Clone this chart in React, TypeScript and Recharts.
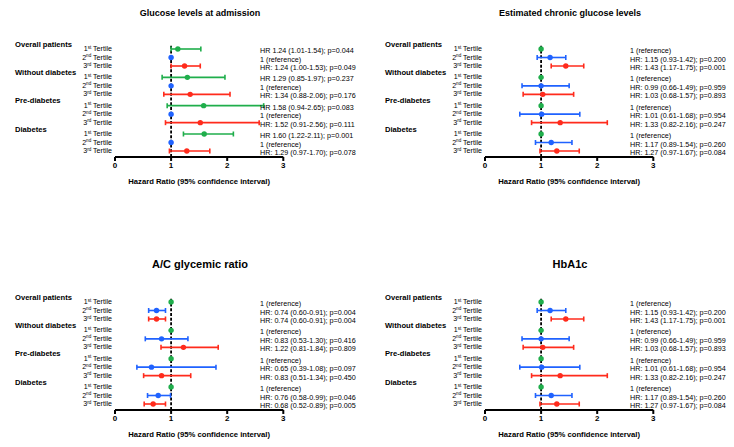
import React from 'react';
import { ScatterChart, Scatter, XAxis, YAxis, ErrorBar, ReferenceLine } from 'recharts';

const groups = ['Overall patients', 'Without diabetes', 'Pre-diabetes', 'Diabetes'];
const tertiles = ['1', '2', '3'];
const tertileSup = ['st', 'nd', 'rd'];
const xTicks = [0, 1, 2, 3];
const tertileColors = ['#1fae4b', '#1f62ff', '#ff2b1c'];

// Glucose levels at admission (2nd tertile = reference)
const admissionHr = [1.12, 1, 1.24, 1.29, 1, 1.34, 1.58, 1, 1.52, 1.59, 1, 1.28];
const admissionLo = [1.0, null, 1.0, 0.84, null, 0.87, 0.93, null, 0.9, 1.22, null, 0.97];
const admissionHi = [1.53, null, 1.52, 1.96, null, 2.05, 2.65, null, 2.57, 2.11, null, 1.69];
const admissionNotes = [
  'HR 1.24 (1.01-1.54); p=0.044', '1 (reference)', 'HR: 1.24 (1.00-1.53); p=0.049',
  'HR 1.29 (0.85-1.97); p=0.237', '1 (reference)', 'HR: 1.34 (0.88-2.06); p=0.176',
  'HR 1.58 (0.94-2.65); p=0.083', '1 (reference)', 'HR: 1.52 (0.91-2.56); p=0.111',
  'HR 1.60 (1.22-2.11); p=0.001', '1 (reference)', 'HR: 1.29 (0.97-1.70); p=0.078',
];

// Estimated chronic glucose levels
const chronicHr = [1, 1.16, 1.44, 1, 1.0, 1.03, 1, 1.01, 1.34, 1, 1.18, 1.28];
const chronicLo = [null, 0.93, 1.18, null, 0.66, 0.68, null, 0.62, 0.83, null, 0.9, 0.98];
const chronicHi = [null, 1.44, 1.76, null, 1.5, 1.58, null, 1.69, 2.18, null, 1.55, 1.68];
const chronicNotes = [
  '1 (reference)', 'HR: 1.15 (0.93-1.42); p=0.200', 'HR: 1.43 (1.17-1.75); p=0.001',
  '1 (reference)', 'HR: 0.99 (0.66-1.49); p=0.959', 'HR: 1.03 (0.68-1.57); p=0.893',
  '1 (reference)', 'HR: 1.01 (0.61-1.68); p=0.954', 'HR: 1.33 (0.82-2.16); p=0.247',
  '1 (reference)', 'HR: 1.17 (0.89-1.54); p=0.260', 'HR: 1.27 (0.97-1.67); p=0.084',
];

// A/C glycemic ratio
const ratioHr = [1, 0.74, 0.74, 1, 0.83, 1.22, 1, 0.65, 0.83, 1, 0.77, 0.68];
const ratioLo = [null, 0.6, 0.6, null, 0.54, 0.82, null, 0.39, 0.51, null, 0.58, 0.52];
const ratioHi = [null, 0.9, 0.9, null, 1.3, 1.84, null, 1.8, 1.35, null, 0.99, 0.9];
const ratioNotes = [
  '1 (reference)', 'HR: 0.74 (0.60-0.91); p=0.004', 'HR: 0.74 (0.60-0.91); p=0.004',
  '1 (reference)', 'HR: 0.83 (0.53-1.30); p=0.416', 'HR: 1.22 (0.81-1.84); p=0.809',
  '1 (reference)', 'HR: 0.65 (0.39-1.08); p=0.097', 'HR: 0.83 (0.51-1.34); p=0.450',
  '1 (reference)', 'HR: 0.76 (0.58-0.99); p=0.046', 'HR: 0.68 (0.52-0.89); p=0.005',
];

// HbA1c
const hba1cHr = [1, 1.16, 1.44, 1, 1.0, 1.03, 1, 1.01, 1.34, 1, 1.18, 1.28];
const hba1cLo = [null, 0.93, 1.18, null, 0.66, 0.68, null, 0.62, 0.83, null, 0.9, 0.98];
const hba1cHi = [null, 1.44, 1.76, null, 1.5, 1.58, null, 1.69, 2.18, null, 1.55, 1.68];
const hba1cNotes = chronicNotes;

const FONT = '"Liberation Sans", Arial, sans-serif';
const W = 367;
const H = 250;

// row position on the y axis: groups are spaced a bit wider than rows
const rowPos = (i: number) => Math.floor(i / 3) * (10 / 3) + (i % 3);

type PanelProps = {
  title: string;
  titleSize: number;
  titleY: number;
  left: number;
  top: number;
  hr: number[];
  lo: (number | null)[];
  hi: (number | null)[];
  notes: string[];
};

const Panel = ({ title, titleSize, titleY, left, top, hr, lo, hi, notes }: PanelProps) => {
  const rows = hr.map((v, i) => ({
    x: v,
    y: rowPos(i),
    err: lo[i] == null ? undefined : [v - (lo[i] as number), (hi[i] as number) - v],
    t: i % 3,
  }));
  const ticks = rows.map((r) => r.y);

  const renderTick = (p: any) => {
    const i = ticks.indexOf(p.payload.value);
    if (i < 0) return <g />;
    const t = i % 3;
    const g = Math.floor(i / 3);
    return (
      <g fontFamily={FONT} fill="#000">
        {t === 0 && (
          <text x={15} y={p.y - 5} fontSize={7.6} fontWeight="bold" dominantBaseline="central">
            {groups[g]}
          </text>
        )}
        <text x={112} y={p.y} fontSize={7.1} textAnchor="end" dominantBaseline="central">
          {tertiles[t]}
          <tspan fontSize={4.6} dy={-2.5}>{tertileSup[t]}</tspan>
          <tspan fontSize={7.1} dy={2.5}> Tertile</tspan>
        </text>
        <text x={260} y={p.y + 1.5} fontSize={7.2} dominantBaseline="central">
          {notes[i]}
        </text>
      </g>
    );
  };

  return (
    <div style={{ position: 'absolute', left, top, width: W, height: H }}>
      <div
        style={{
          position: 'absolute', left: 50, width: 300, top: titleY - titleSize * 0.6,
          textAlign: 'center', fontFamily: FONT, fontWeight: 'bold', fontSize: titleSize,
          lineHeight: `${titleSize * 1.2}px`, color: '#000',
        }}
      >
        {title}
      </div>
      <div style={{ position: 'absolute', left: 0, top: 0 }}>
        <ScatterChart width={W} height={H} margin={{ top: 44.75, right: 83.7, left: 0, bottom: 63.05 }}>
          <XAxis
            type="number"
            dataKey="x"
            domain={[0, 3]}
            ticks={xTicks}
            allowDataOverflow
            height={30}
            axisLine={{ stroke: '#000', strokeWidth: 2 }}
            tickLine={{ stroke: '#000', strokeWidth: 2 }}
            tickSize={4}
            tickMargin={1}
            tick={{ fill: '#000', fontSize: 8, fontWeight: 'bold', fontFamily: FONT }}
            label={{
              value: 'Hazard Ratio (95% confidence interval)', position: 'insideBottom', offset: 3,
              fill: '#000', fontSize: 7.7, fontWeight: 'bold', fontFamily: FONT,
            }}
          />
          <YAxis
            type="number"
            dataKey="y"
            domain={[-0.5, 12.7]}
            reversed
            ticks={ticks}
            interval={0}
            width={115}
            axisLine={false}
            tickLine={false}
            tick={renderTick}
          />
          <ReferenceLine x={1} stroke="#000" strokeWidth={1.8} strokeDasharray="3 1.7" />
          {tertileColors.map((color, t) => (
            <Scatter
              key={t}
              data={rows.filter((r) => r.t === t)}
              isAnimationActive={false}
              shape={(p: any) => <circle cx={p.cx} cy={p.cy} r={2.7} fill={color} />}
            >
              <ErrorBar
                dataKey="err"
                direction="x"
                width={2.5}
                stroke={color}
                strokeWidth={1.6}
                isAnimationActive={false}
              />
            </Scatter>
          ))}
        </ScatterChart>
      </div>
    </div>
  );
};

export default function App() {
  return (
    <div style={{ position: 'absolute', left: 0, top: 0, width: 734, height: 447, background: '#fff', overflow: 'hidden' }}>
      <Panel title="Glucose levels at admission" titleSize={9} titleY={13} left={0} top={0}
        hr={admissionHr} lo={admissionLo} hi={admissionHi} notes={admissionNotes} />
      <Panel title="Estimated chronic glucose levels" titleSize={9} titleY={13} left={370} top={0}
        hr={chronicHr} lo={chronicLo} hi={chronicHi} notes={chronicNotes} />
      <Panel title="A/C glycemic ratio" titleSize={11} titleY={12} left={0} top={253}
        hr={ratioHr} lo={ratioLo} hi={ratioHi} notes={ratioNotes} />
      <Panel title="HbA1c" titleSize={11} titleY={12} left={370} top={253}
        hr={hba1cHr} lo={hba1cLo} hi={hba1cHi} notes={hba1cNotes} />
    </div>
  );
}
